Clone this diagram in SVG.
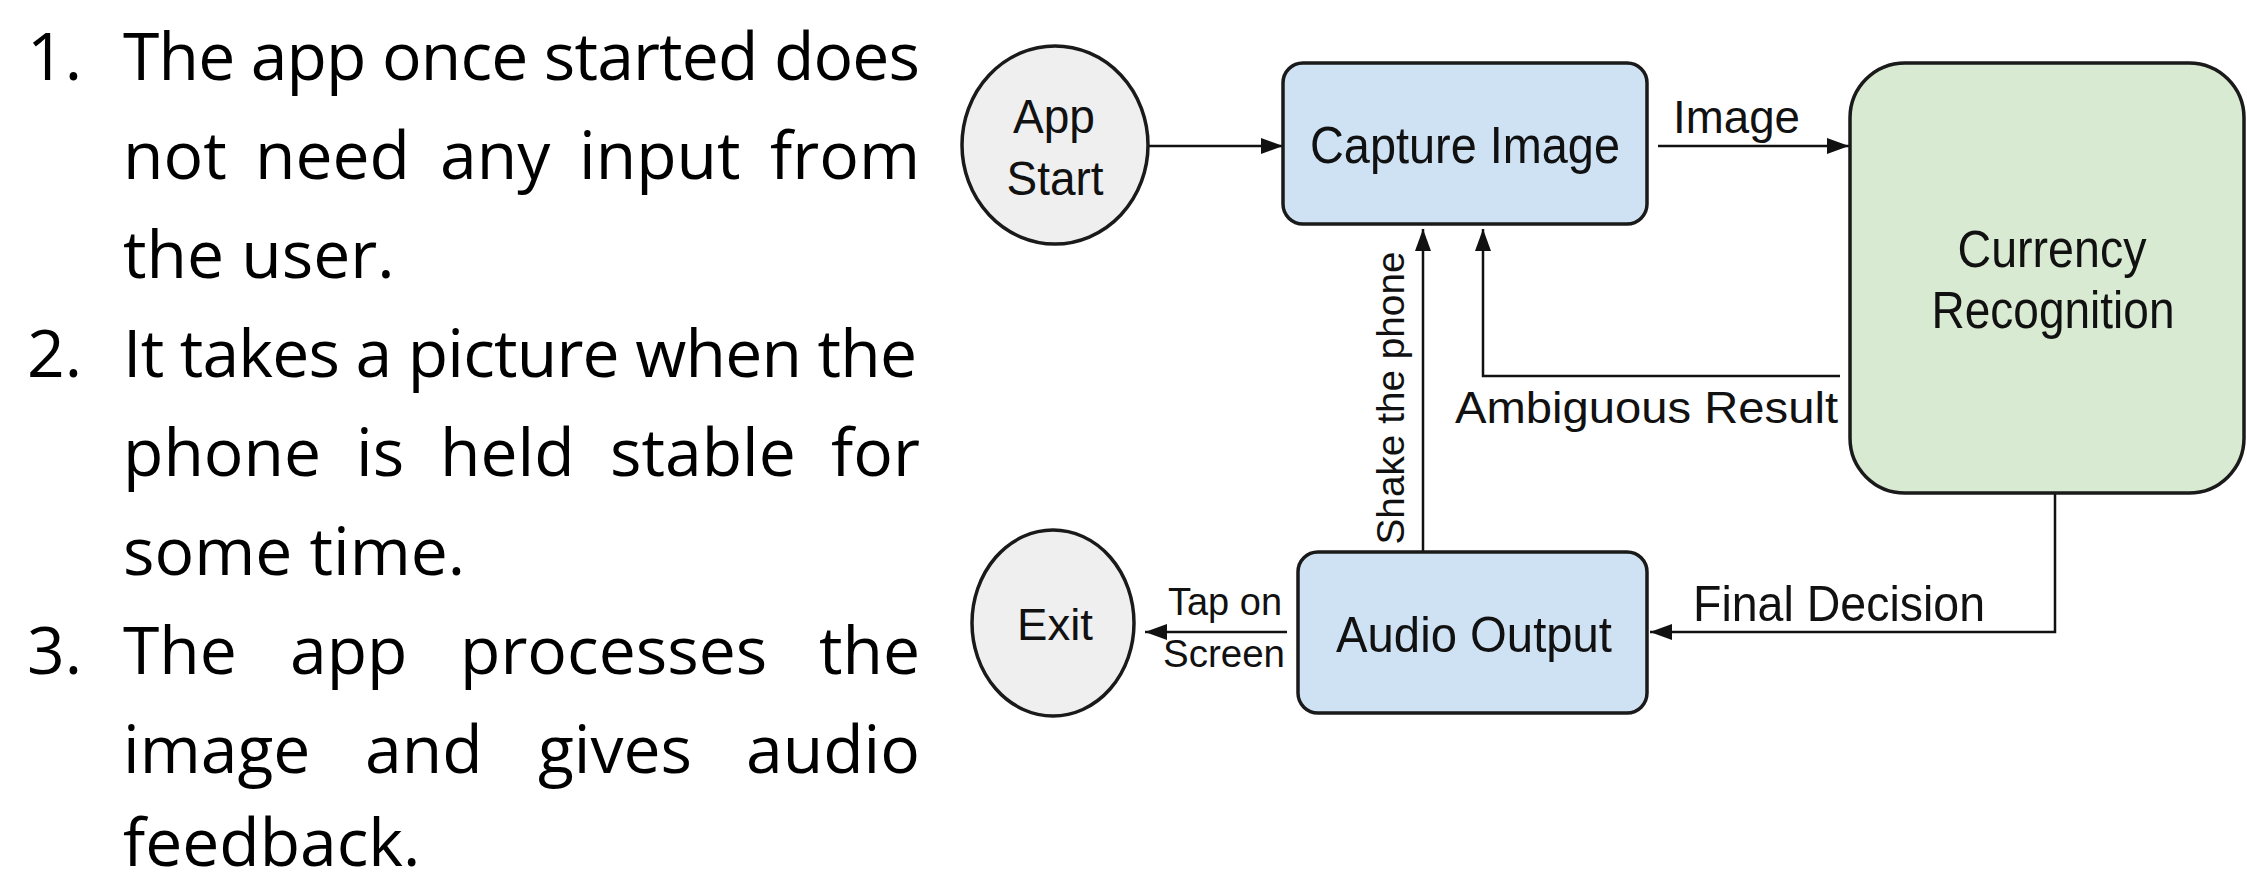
<svg xmlns="http://www.w3.org/2000/svg" width="2247" height="885" viewBox="0 0 2247 885">
<defs>
<style>
.bg{fill:#ffffff}
.body{font-family:"Open Sans","Noto Sans",sans-serif;font-size:66px;fill:#000}
.end{text-anchor:end}
.lbl{font-family:"Liberation Sans",Arial,sans-serif;fill:#111;text-anchor:middle}
.edge{font-family:"Liberation Sans",Arial,sans-serif;fill:#111}
.node{stroke:#1a1a1a;stroke-width:3.5}
.blue{fill:#cfe2f3}
.green{fill:#d9ead3}
.grey{fill:#efefef}
.conn{fill:none;stroke:#111;stroke-width:2.5}
</style>
<marker id="ah" markerWidth="22" markerHeight="16" refX="22" refY="8" orient="auto" markerUnits="userSpaceOnUse">
<path d="M0,0 L22,8 L0,16 Z" fill="#111"/>
</marker>
</defs>
<rect class="bg" x="0" y="0" width="2247" height="885"/>

<g id="description">
<text class="body" x="27" y="80">1.</text>
<text class="body" x="123" y="80" textLength="797" lengthAdjust="spacing">The app once started does</text>
<text class="body" y="179"><tspan x="123">not</tspan><tspan x="255">need</tspan><tspan x="440">any</tspan><tspan x="579">input</tspan><tspan x="920" class="end">from</tspan></text>
<text class="body" x="123" y="278">the user.</text>
<text class="body" x="27" y="377">2.</text>
<text class="body" x="123" y="377" textLength="794" lengthAdjust="spacing">It takes a picture when the</text>
<text class="body" y="476"><tspan x="123">phone</tspan><tspan x="356">is</tspan><tspan x="440">held</tspan><tspan x="610">stable</tspan><tspan x="920" class="end">for</tspan></text>
<text class="body" x="123" y="575">some time.</text>
<text class="body" x="27" y="674">3.</text>
<text class="body" y="674"><tspan x="123">The</tspan><tspan x="290">app</tspan><tspan x="460">processes</tspan><tspan x="920" class="end">the</tspan></text>
<text class="body" y="773"><tspan x="123">image</tspan><tspan x="365">and</tspan><tspan x="538">gives</tspan><tspan x="920" class="end">audio</tspan></text>
<text class="body" x="123" y="866">feedback.</text>
</g>

<g id="connectors">
<line class="conn" x1="1148" y1="146" x2="1283" y2="146" marker-end="url(#ah)"/>
<line class="conn" x1="1658" y1="146" x2="1849" y2="146" marker-end="url(#ah)"/>
<path class="conn" d="M1840,376 H1483 V229" marker-end="url(#ah)"/>
<line class="conn" x1="1423" y1="552" x2="1423" y2="229" marker-end="url(#ah)"/>
<path class="conn" d="M2055,493 V632 H1650" marker-end="url(#ah)"/>
<line class="conn" x1="1287" y1="632" x2="1145" y2="632" marker-end="url(#ah)"/>
<text class="edge" x="1673" y="133" font-size="47" textLength="127" lengthAdjust="spacingAndGlyphs">Image</text>
<text class="edge" x="1455" y="423" font-size="44" textLength="383" lengthAdjust="spacingAndGlyphs">Ambiguous Result</text>
<text class="edge" x="1404" y="398" font-size="38" text-anchor="middle" transform="rotate(-90 1404 398)" textLength="293" lengthAdjust="spacingAndGlyphs">Shake the phone</text>
<text class="edge" x="1693" y="621" font-size="50" textLength="292" lengthAdjust="spacingAndGlyphs">Final Decision</text>
<text class="edge" x="1168" y="615" font-size="38" textLength="114" lengthAdjust="spacingAndGlyphs">Tap on</text>
<text class="edge" x="1163" y="667" font-size="38" textLength="122" lengthAdjust="spacingAndGlyphs">Screen</text>
</g>

<g id="app-start">
<ellipse class="node grey" cx="1055" cy="145" rx="93" ry="99"/>
<text class="lbl" x="1054" y="133" font-size="49" textLength="82" lengthAdjust="spacingAndGlyphs">App</text>
<text class="lbl" x="1055" y="195" font-size="49" textLength="97" lengthAdjust="spacingAndGlyphs">Start</text>
</g>

<g id="capture-image">
<rect class="node blue" x="1283" y="63" width="364" height="161" rx="20"/>
<text class="lbl" x="1465" y="163" font-size="52" textLength="310" lengthAdjust="spacingAndGlyphs">Capture Image</text>
</g>

<g id="currency-recognition">
<rect class="node green" x="1850" y="63" width="394" height="430" rx="55"/>
<text class="lbl" x="2052" y="267" font-size="51" textLength="189" lengthAdjust="spacingAndGlyphs">Currency</text>
<text class="lbl" x="2053" y="328" font-size="51" textLength="243" lengthAdjust="spacingAndGlyphs">Recognition</text>
</g>

<g id="audio-output">
<rect class="node blue" x="1298" y="552" width="349" height="161" rx="20"/>
<text class="lbl" x="1474" y="652" font-size="50" textLength="276" lengthAdjust="spacingAndGlyphs">Audio Output</text>
</g>

<g id="exit">
<ellipse class="node grey" cx="1053" cy="623" rx="81" ry="93"/>
<text class="lbl" x="1055" y="640" font-size="45" textLength="76" lengthAdjust="spacingAndGlyphs">Exit</text>
</g>
</svg>
